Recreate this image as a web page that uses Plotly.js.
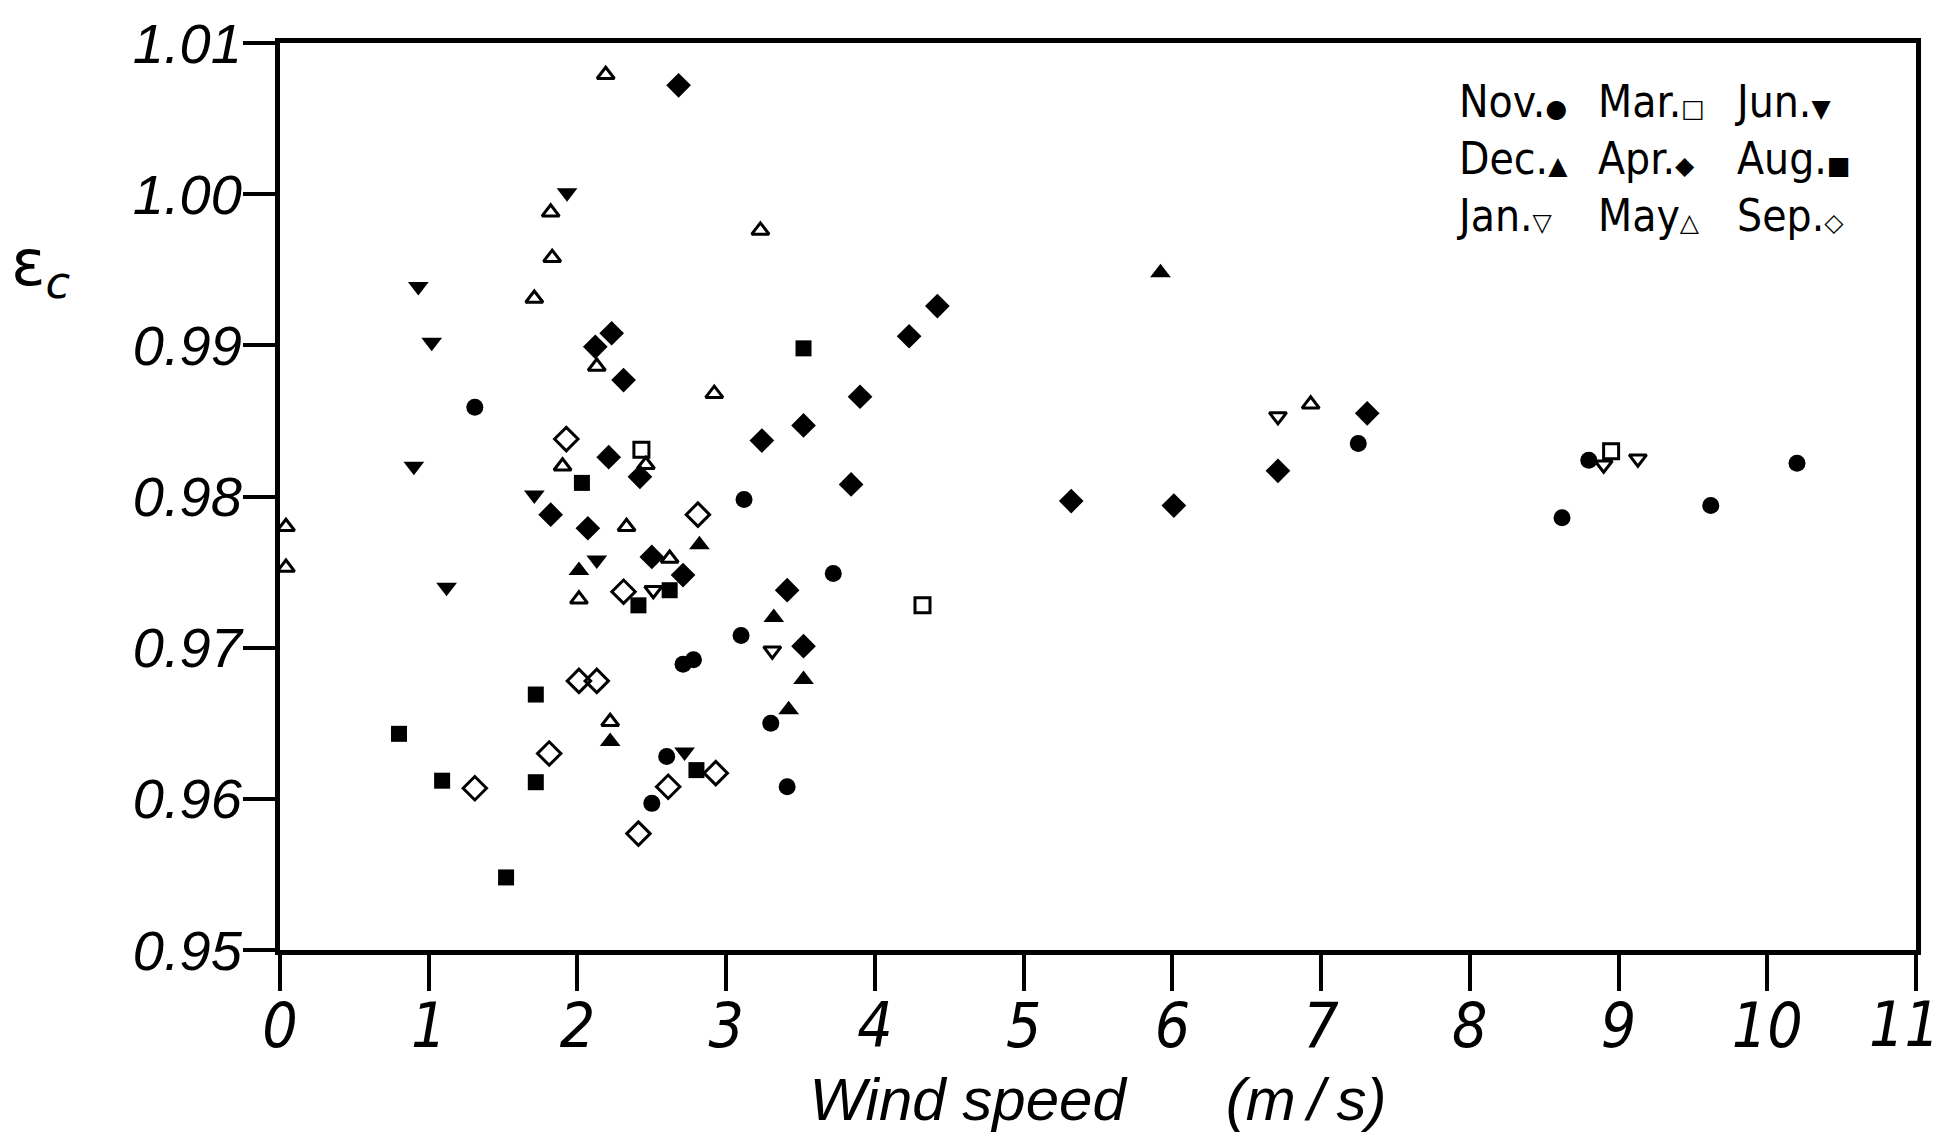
<!DOCTYPE html>
<html>
<head>
<meta charset="utf-8">
<script src="https://cdn.plot.ly/plotly-3.0.1.min.js"></script>
<style>
  html, body { margin: 0; padding: 0; background: #fff; }
  #chart { width: 1940px; height: 1138px; }
</style>
</head>
<body>
<div id="chart"></div>
<script>
// Emissivity factor against wind speed, one series per month.
const novX = [1.31, 3.12, 3.10, 2.71, 2.78, 3.72, 3.30, 2.60, 2.50, 3.41, 7.25, 8.62, 8.80, 9.62, 10.20];
const novY = [0.9859, 0.9798, 0.9708, 0.9689, 0.9692, 0.9749, 0.9650, 0.9628, 0.9597, 0.9608, 0.9835, 0.9786, 0.9824, 0.9794, 0.9822];

const decX = [5.92, 2.01, 2.22, 2.82, 3.32, 3.42, 3.52];
const decY = [0.9948, 0.9751, 0.9638, 0.9768, 0.9720, 0.9659, 0.9679];

const janX = [6.71, 8.90, 9.13, 3.31, 2.51];
const janY = [0.9853, 0.9821, 0.9825, 0.9698, 0.9738];

const marX = [2.43, 4.32, 8.95];
const marY = [0.9831, 0.9728, 0.9830];

const aprX = [2.68, 2.23, 2.12, 2.31, 2.21, 2.42, 1.82, 2.07, 2.50, 2.71, 3.24, 3.52, 3.90, 3.84, 3.41, 3.52, 4.23, 4.42, 5.32, 6.01, 6.71, 7.31];
const aprY = [1.0072, 0.9908, 0.9899, 0.9877, 0.9826, 0.9813, 0.9788, 0.9779, 0.9760, 0.9748, 0.9837, 0.9847, 0.9866, 0.9808, 0.9738, 0.9701, 0.9906, 0.9926, 0.9797, 0.9794, 0.9817, 0.9855];

const mayX = [0.04, 0.04, 2.19, 1.82, 1.83, 1.71, 2.13, 3.23, 2.92, 1.90, 2.46, 2.33, 2.01, 2.62, 2.22, 6.93];
const mayY = [0.9780, 0.9753, 1.0079, 0.9988, 0.9958, 0.9931, 0.9886, 0.9976, 0.9868, 0.9820, 0.9821, 0.9780, 0.9732, 0.9759, 0.9651, 0.9861];

const junX = [0.93, 1.02, 0.90, 1.12, 1.93, 1.71, 2.13, 2.72];
const junY = [0.9939, 0.9902, 0.9820, 0.9740, 1.0001, 0.9801, 0.9758, 0.9631];

const augX = [3.52, 2.03, 2.41, 2.62, 1.72, 0.80, 1.09, 1.72, 2.80, 1.52];
const augY = [0.9898, 0.9809, 0.9728, 0.9738, 0.9669, 0.9643, 0.9612, 0.9611, 0.9619, 0.9548];

const sepX = [1.925, 2.81, 2.31, 2.01, 2.13, 1.81, 1.31, 2.61, 2.93, 2.41];
const sepY = [0.9838, 0.9788, 0.9737, 0.9678, 0.9678, 0.9630, 0.9607, 0.9608, 0.9617, 0.9577];

const xTickVals = [0, 1, 2, 3, 4, 5, 6, 7, 8, 9, 10, 11];
const xTickLabels = ['0', '1', '2', '3', '4', '5', '6', '7', '8', '9', '10', '11'];
const yTickVals = [0.95, 0.96, 0.97, 0.98, 0.99, 1.00, 1.01];
const yTickLabels = ['0.95', '0.96', '0.97', '0.98', '0.99', '1.00', '1.01'];

// Key: month name followed by its marker glyph, laid out in three columns.
const keyNames = [
  ['Nov.', 'Dec.', 'Jan.'],
  ['Mar.', 'Apr.', 'May'],
  ['Jun.', 'Aug.', 'Sep.']
];
const keyGlyphs = [
  ['\u25CF', '\u25B2', '\u25BD'],
  ['\u25A1', '\u25C6', '\u25B3'],
  ['\u25BC', '\u25A0', '\u25C7']
];

const INK = '#000000';

function series(name, xs, ys, symbol, size, open) {
  return {
    type: 'scatter',
    mode: 'markers',
    name: name,
    x: xs,
    y: ys,
    cliponaxis: false,
    marker: {
      symbol: symbol,
      size: size,
      color: INK,
      line: { color: INK, width: open ? 3 : 0 }
    },
    hoverinfo: 'x+y+name'
  };
}

const traces = [
  series('Nov.', novX, novY, 'circle', 17, false),
  series('Dec.', decX, decY, 'triangle-up', 18, false),
  series('Jan.', janX, janY, 'triangle-down-open', 15, true),
  series('Mar.', marX, marY, 'square-open', 15, true),
  series('Apr.', aprX, aprY, 'diamond', 19, false),
  series('May', mayX, mayY, 'triangle-up-open', 15, true),
  series('Jun.', junX, junY, 'triangle-down', 18, false),
  series('Aug.', augX, augY, 'square', 16, false),
  series('Sep.', sepX, sepY, 'diamond-open', 18, true)
];

const narrow = 'Liberation Sans Narrow, DejaVu Sans Condensed, Liberation Sans, Arial, sans-serif';
const plain = 'Liberation Sans, Arial, sans-serif';
const nb = '\u00A0';
const xTickFont = { family: narrow, size: 62, style: 'italic', color: INK };

const keyX = [0.7176, 0.8044, 0.8875];
const annotations = keyNames.map((col, i) => ({
  xref: 'paper', yref: 'paper',
  x: keyX[i], y: 0.873,
  xanchor: 'left', yanchor: 'middle',
  align: 'left',
  showarrow: false,
  text: col.map((name, j) =>
    name + '<span style="font-size:25px;font-family:DejaVu Sans">' + keyGlyphs[i][j] + '</span>'
  ).join('<br>'),
  font: { family: narrow, size: 44, color: INK }
}));

// The last abscissa label sits at the right edge of the frame, so it is
// drawn as an annotation nudged inwards instead of as a regular tick label.
const lastTick = xTickVals.length - 1;
annotations.push({
  xref: 'x', yref: 'paper',
  x: xTickVals[lastTick], y: -0.0816,
  xanchor: 'center', yanchor: 'middle',
  xshift: -12,
  showarrow: false,
  text: xTickLabels[lastTick],
  font: xTickFont
});

// Axis symbol for the ordinate, placed beside the upper part of the axis.
annotations.push({
  xref: 'paper', yref: 'paper',
  x: -0.146, y: 0.752,
  xanchor: 'center', yanchor: 'middle',
  showarrow: false,
  text: '\u03B5<sub><i>c</i></sub>',
  font: { family: 'DejaVu Sans, sans-serif', size: 64, color: INK }
});

const axisCommon = {
  showgrid: false,
  zeroline: false,
  showline: true,
  linecolor: INK,
  linewidth: 5,
  mirror: true,
  ticks: 'outside',
  tickwidth: 4,
  tickcolor: INK,
  ticklabeloverflow: 'allow'
};

const layout = {
  width: 1940,
  height: 1138,
  paper_bgcolor: '#ffffff',
  plot_bgcolor: '#ffffff',
  showlegend: false,
  margin: { l: 280, r: 24, t: 43, b: 188, pad: 0 },
  xaxis: Object.assign({}, axisCommon, {
    range: [0, 11],
    tickmode: 'array',
    tickvals: xTickVals,
    ticktext: xTickLabels.map((t, i) => (i === lastTick ? ' ' : t)),
    ticklen: 36,
    ticklabelstandoff: -18,
    tickfont: xTickFont,
    title: {
      text: 'Wind speed' + nb.repeat(6) + '(m\u2009/\u2009s)',
      font: { family: plain, size: 60, style: 'italic', color: INK },
      standoff: 18
    }
  }),
  yaxis: Object.assign({}, axisCommon, {
    range: [0.95, 1.01],
    tickmode: 'array',
    tickvals: yTickVals,
    ticktext: yTickLabels,
    ticklen: 32,
    ticklabelstandoff: -10,
    tickfont: { family: plain, size: 56, style: 'italic', color: INK }
  }),
  annotations: annotations
};

Plotly.newPlot('chart', traces, layout, { displayModeBar: false, staticPlot: true });
</script>
</body>
</html>
